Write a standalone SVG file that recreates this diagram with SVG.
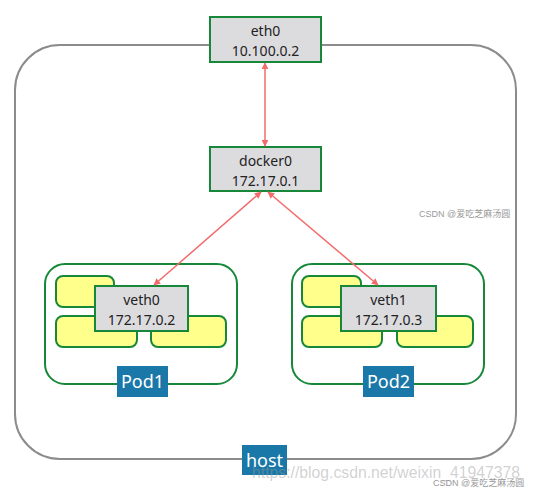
<svg xmlns="http://www.w3.org/2000/svg" width="533" height="492" viewBox="0 0 533 492">
<defs>
<marker id="ah" viewBox="0 0 10 10" refX="9" refY="5" markerWidth="7" markerHeight="7" orient="auto-start-reverse" markerUnits="userSpaceOnUse">
<path d="M0,0 L10,5 L0,10 z" fill="#f26b6b"/>
</marker>
<style>
.box{fill:#dcdcdf;stroke:#17883a;stroke-width:2}
.pod{fill:none;stroke:#17883a;stroke-width:2}
.yel{fill:#ffff8c;stroke:#17883a;stroke-width:2}
.t{font-family:"Noto Sans","Open Sans",sans-serif;font-size:14px;fill:#222;text-anchor:middle}
.lbl{fill:#1a78a8}
.lt{font-family:"Noto Sans","Open Sans",sans-serif;font-size:18px;fill:#fff;text-anchor:middle}
.con{stroke:#f26b6b;stroke-width:1.5;fill:none;marker-start:url(#ah);marker-end:url(#ah)}
.wm{font-family:"Liberation Sans","Noto Sans CJK SC",sans-serif;fill:#999}
</style>
</defs>
<rect width="533" height="492" fill="#fff"/>
<g id="host">
<rect x="15" y="45" width="501" height="414" rx="45" ry="45" fill="none" stroke="#8c8c8c" stroke-width="2"/>
<rect class="lbl" x="242" y="445" width="45" height="30"/>
<text class="lt" x="264.5" y="467">host</text>
</g>
<g id="pod1">
<rect class="pod" x="45" y="264" width="192" height="120" rx="20"/>
<rect class="yel" x="56" y="276" width="58" height="31" rx="7"/>
<rect class="yel" x="56" y="316" width="81" height="31" rx="7"/>
<rect class="yel" x="151" y="316" width="75" height="31" rx="7"/>
<rect class="lbl" x="117" y="366" width="51" height="31"/>
<text class="lt" x="142.5" y="388">Pod1</text>
</g>
<g id="pod2">
<rect class="pod" x="292" y="264" width="192" height="120" rx="20"/>
<rect class="yel" x="302" y="276" width="59" height="31" rx="7"/>
<rect class="yel" x="302" y="316" width="80" height="31" rx="7"/>
<rect class="yel" x="397" y="316" width="76" height="31" rx="7"/>
<rect class="lbl" x="363" y="366" width="51" height="31"/>
<text class="lt" x="388.5" y="388">Pod2</text>
</g>
<g id="eth0">
<rect class="box" x="210" y="17" width="111" height="45"/>
<text class="t" x="265.5" y="36">eth0</text>
<text class="t" x="265.5" y="56">10.100.0.2</text>
</g>
<g id="docker0">
<rect class="box" x="210" y="147" width="111" height="44"/>
<text class="t" x="265.5" y="166">docker0</text>
<text class="t" x="265.5" y="186">172.17.0.1</text>
</g>
<g id="veth0">
<rect class="box" x="95" y="286" width="93" height="45"/>
<text class="t" x="141.5" y="305">veth0</text>
<text class="t" x="141.5" y="325">172.17.0.2</text>
</g>
<g id="veth1">
<rect class="box" x="341" y="286" width="95" height="45"/>
<text class="t" x="388.5" y="305">veth1</text>
<text class="t" x="388.5" y="325">172.17.0.3</text>
</g>
<g id="connectors">
<line class="con" x1="265" y1="63" x2="265" y2="146"/>
<line class="con" x1="261" y1="192" x2="154" y2="285"/>
<line class="con" x1="268" y1="192" x2="378" y2="285"/>
</g>
<g id="watermarks">
<text class="wm" x="419" y="217" font-size="9">CSDN @爱吃芝麻汤圆</text>
<text class="wm" x="252" y="478" font-size="17" fill-opacity="0.45" textLength="268" lengthAdjust="spacingAndGlyphs">https://blog.csdn.net/weixin_41947378</text>
<text class="wm" x="433" y="486" font-size="9">CSDN @爱吃芝麻汤圆</text>
</g>
</svg>
